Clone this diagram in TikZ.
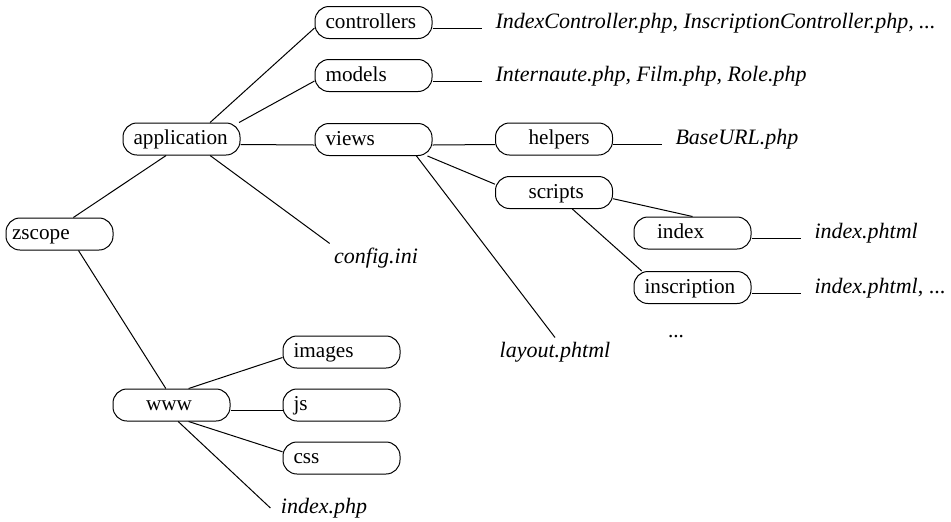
\documentclass[tikz,border=0pt]{standalone}
\usepackage{fontspec}
\setmainfont{Liberation Serif}
\usepackage{tikz}
\usetikzlibrary{positioning}
\tikzset{
  tree diagram/.style={font=\fontsize{10.6}{13}\selectfont, line width=0.5pt,
    x=0.5pt, y=-0.5pt},
  dirbox/.style={draw, rounded corners=7pt, minimum height=16pt,
    inner ysep=0pt, inner xsep=0pt, text width=58.5pt, align=left,
    text height=7.5pt, text depth=2pt,
    execute at begin node={\hspace*{#1}}},
  dirbox/.default=5.25pt,
  filelist/.style={font=\fontsize{11}{13}\selectfont\itshape, anchor=base west, inner xsep=6.5pt},
  fileleaf/.style={font=\fontsize{11}{13}\selectfont\itshape, inner sep=2pt}
}
\begin{document}
\begin{tikzpicture}[tree diagram]
\useasboundingbox (0,0) rectangle (951,521);
% folders
\node[dirbox=3pt, text width=53.5pt] (zscope) at (59.5,234) {zscope};
\node[dirbox] (application) at (181.5,139) {application};
\node[dirbox] (controllers) at (373.5,22.5) {controllers};
\node[dirbox] (models) at (373.5,75.5) {models};
\node[dirbox] (views) at (373.5,139.5) {views};
\node[dirbox=16.5pt] (helpers) at (554,139) {helpers};
\node[dirbox=16.5pt] (scripts) at (554,192.5) {scripts};
\node[dirbox=11.5pt] (index) at (692.5,233) {index};
\node[dirbox] (inscription) at (692.5,287.5) {inscription};
\node[dirbox=16.5pt] (www) at (171.5,405) {www};
\node[dirbox] (images) at (341.5,352) {images};
\node[dirbox] (js) at (341.5,405) {js};
\node[dirbox] (css) at (341.5,458) {css};
% files
\node[filelist] (ctrlfiles) at (482,28) {IndexController.php, InscriptionController.php, ...};
\node[filelist] (modelfiles) at (482,81) {Internaute.php, Film.php, Role.php};
\node[filelist] (baseurl) at (662,144.5) {BaseURL.php};
\node[filelist] (indexphtml) at (801,238.5) {index.phtml};
\node[filelist] (inscphtml) at (801,293) {index.phtml\textup{, ...}};
\node[fileleaf] (config) at (376,258) {config.ini};
\node[fileleaf] (layout) at (555,352) {layout.phtml};
\node[fileleaf, inner xsep=5pt] (indexphp) at (324,508) {index.php};
\node (more) at (676,337) {...};
% branches
\draw (application.30) -- (controllers.base west);
\draw (application.16) -- (models.base west);
\draw (application.base east) -- (views.base west);
\draw (application.-133) -- (zscope.50);
\draw (application.-30) -- (config.north west);
\draw (zscope.-41) -- (www.109);
\draw (controllers.base east) -- (ctrlfiles.base west);
\draw (models.base east) -- (modelfiles.base west);
\draw (views.base east) -- (helpers.base west);
\draw (views.-17) -- (scripts.172);
\draw (views.-21) -- (layout.north);
\draw (helpers.base east) -- (baseurl.base west);
\draw (scripts.-6) -- (index.north);
\draw (scripts.-42) -- (inscription.162);
\draw (index.base east) -- (indexphtml.base west);
\draw (inscription.base east) -- (inscphtml.base west);
\draw (www.44) -- (images.base west);
\draw (www.base east) -- (js.base west);
\draw (www.-44) -- (css.174);
\draw (www.-68) -- (indexphp.west);
\end{tikzpicture}
\end{document}
